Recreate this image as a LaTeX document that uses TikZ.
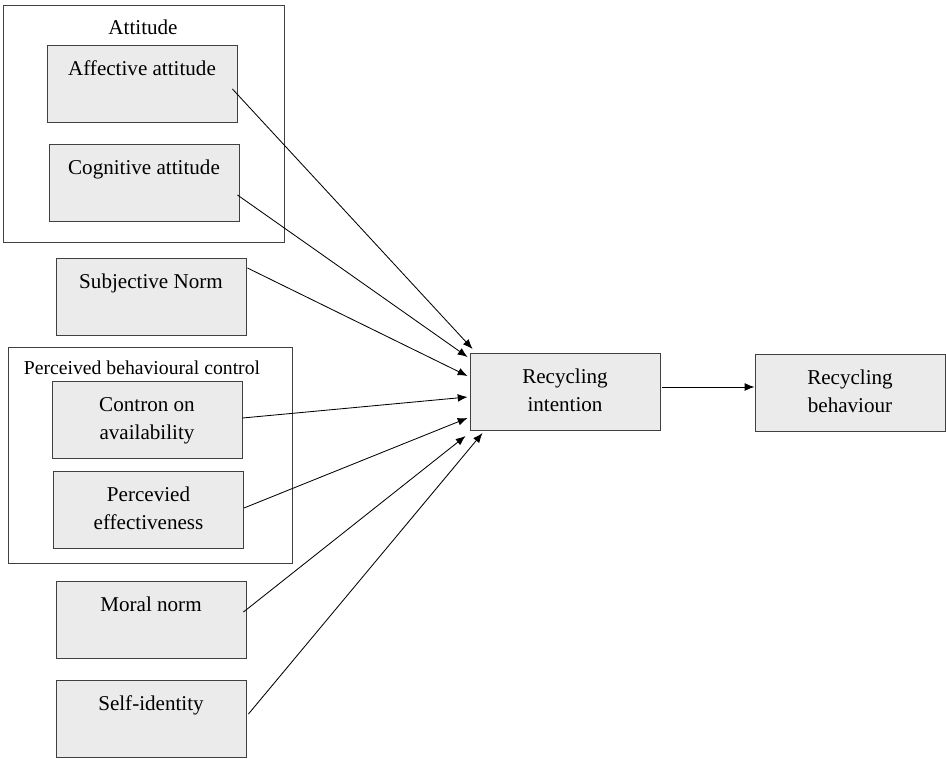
\documentclass[tikz,border=0pt]{standalone}
\usepackage{fontspec}
\setmainfont{Liberation Serif}
\usetikzlibrary{shapes,arrows.meta}
\newcommand{\boxtext}[2]{\strut #1\\\strut #2}
\tikzstyle{factor} = [draw=black!75, fill=black!8, line width=0.6pt, minimum width=4.75cm, minimum height=1.925cm, inner sep=0pt, align=center, font=\fontsize{15}{20}\selectfont]
\tikzstyle{group} = [draw=black!75, line width=0.6pt, inner sep=0pt]
\tikzset{
  line/.style ={draw, line width=0.6pt, -{Latex[length=7pt,width=5.5pt]}, shorten >=0pt}
}

\begin{document}
\begin{tikzpicture}[x=0.025cm,y=-0.025cm]
	\useasboundingbox (0,0) rectangle (946,758);
	% outer group boxes
	\node[group, minimum width=7.025cm, minimum height=5.925cm] (att) at (143.5,123.5) {};
	\node[font=\fontsize{15}{18}\selectfont] (attlabel) at (143,27) {Attitude};
	\node[group, minimum width=7.1cm, minimum height=5.4cm] (pbc) at (150,455) {};
	\node[font=\fontsize{14}{17}\selectfont] (pbclabel) at (142,368) {Perceived behavioural control};

	\node[factor] (aff) at (142,83.5) {\boxtext{Affective attitude}{}};
	\node[factor] (cog) at (144,183) {\boxtext{Cognitive attitude}{}};
	\node[factor] (subj) at (151,296.5) {\boxtext{Subjective Norm}{}};
	\node[factor] (con) at (147,420) {\boxtext{Contron on}{availability}};
	\node[factor] (per) at (148.5,509.5) {\boxtext{Percevied}{effectiveness}};
	\node[factor] (mor) at (151,620) {\boxtext{Moral norm}{}};
	\node[factor] (self) at (151,718.5) {\boxtext{Self-identity}{}};
	\node[factor] (int) at (565,391.5) {\boxtext{Recycling}{intention}};
	\node[factor] (beh) at (850,392.5) {\boxtext{Recycling}{behaviour}};

	\draw [line] ([shift={(-5,5.5)}]aff.east) -- ([shift={(3,-42.5)}]int.west);
	\draw [line] ([shift={(-2,12)}]cog.east) -- ([shift={(-2,-34.5)}]int.west);
	\draw [line] ([shift={(1,-28.5)}]subj.east) -- ([shift={(-2,-15.5)}]int.west);
	\draw [line] ([shift={(0,-2)}]con.east) -- ([shift={(-2,5.5)}]int.west);
	\draw [line] ([shift={(0,-1.5)}]per.east) -- ([shift={(-2,26.5)}]int.west);
	\draw [line] ([shift={(-3,-8)}]mor.east) -- ([shift={(-4,44.5)}]int.west);
	\draw [line] ([shift={(2,-4.5)}]self.east) -- ([shift={(13,41.5)}]int.west);
	\draw [line] ([shift={(2,-4.5)}]int.east) -- ([shift={(0,-5.5)}]beh.west);

\end{tikzpicture}
\end{document}
